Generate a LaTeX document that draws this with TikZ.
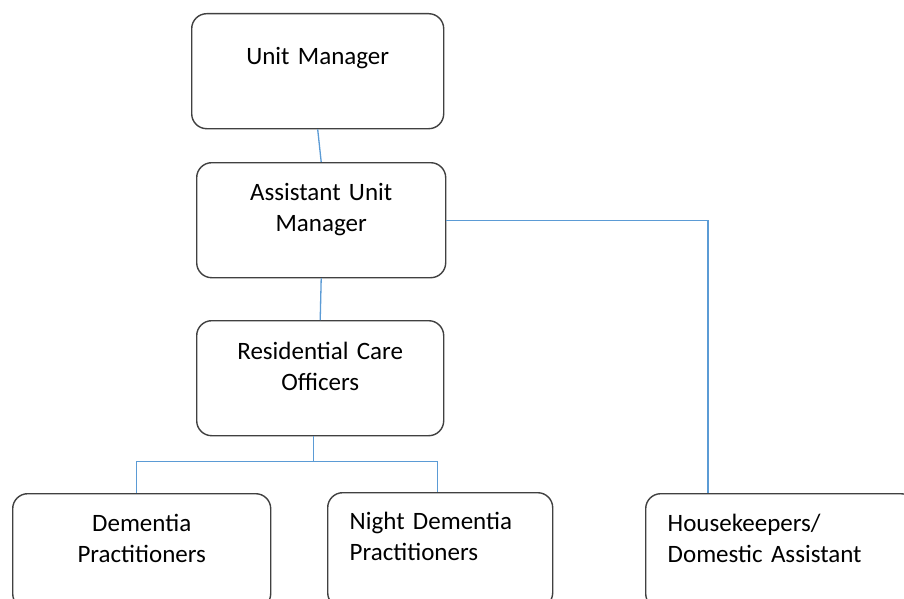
\documentclass[tikz,border=0pt]{standalone}
\usepackage{fontspec}
\setmainfont{Carlito}
\usetikzlibrary{
    positioning,
    calc
}
\definecolor{boxgray}{HTML}{404040}
\definecolor{linkblue}{HTML}{5B9BD5}

\begin{document}
\begin{tikzpicture}[x=1pt,y=-1pt,
		box/.style 2 args={draw=boxgray,line width=1.4pt,rounded corners=15pt,anchor=north west,
			inner xsep=22pt,inner ysep=0pt,text height=#1,text depth=#2,
			font=\fontsize{25}{30.5}\selectfont},
		link/.style={draw=linkblue,line width=1.3pt}]
		\useasboundingbox[fill=white] (0,0) rectangle (904,599);
		\clip (0,0) rectangle (904,599);
		\node[box={51pt}{64pt},text width=208pt,align=center] (um) at (191,13) {Unit Manager};
		\node[box={38pt}{77pt},text width=205pt,align=center] (aum) at (196,162) {Assistant Unit\\Manager};
		\node[box={39pt}{76pt},text width=203pt,align=center] (rco) at (196,320) {Residential Care\\Officers};
		\node[box={38pt}{77pt},text width=214pt,align=center] (dem) at (12,493) {Dementia\\Practitioners};
		\node[box={37pt}{78pt},text width=181pt,align=left] (night) at (327,492) {Night Dementia\\Practitioners};
		\node[box={38pt}{77pt},text width=226pt,align=left] (hk) at (645,493) {Housekeepers/\\Domestic Assistant};
		\coordinate (fork) at ($(rco.south)+(-7,25)$);
		\coordinate (hkin) at ($(hk.north west)+(63,0)$);
		\draw[link] (um.south) -- (aum.north);
		\draw[link] (aum.south) -- (rco.north);
		\draw[link] ($(rco.south)+(-7,0)$) -- (fork);
		\draw[link] ($(dem.north)+(-5,0)$) |- (fork) -| ($(night.north)+(-3,0)$);
		\draw[link] (aum.east) -- (hkin |- aum.east) -- (hkin);
	\end{tikzpicture}
\end{document}
